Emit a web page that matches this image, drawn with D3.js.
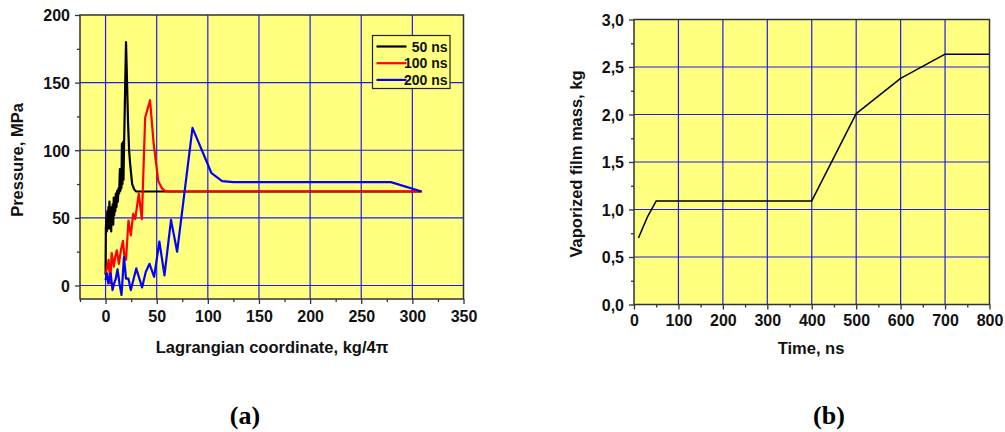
<!DOCTYPE html>
<html><head><meta charset="utf-8">
<script src="https://cdn.jsdelivr.net/npm/d3@7"></script>
<style>
html,body{margin:0;padding:0;background:#fff;}
svg{display:block;font-family:"Liberation Sans",Arial,sans-serif;font-weight:bold;}
</style></head>
<body>
<svg id="c" width="1005" height="432"></svg>
<script>
// ---- Panel (a): pressure vs Lagrangian coordinate ----
const seriesNames = ["50 ns", "100 ns", "200 ns"];
const seriesColors = ["#000000", "#ff0000", "#0000ff"];

const x50 = [0, 0.3, 0.8, 1.2, 1.7, 2.2, 2.8, 3.3, 3.8, 4.3, 5, 5.5, 6, 6.5, 7, 7.5, 8, 8.5, 9, 9.5, 10, 10.7, 11.3, 12, 12.7, 13.3, 14, 14.5, 15, 15.5, 16, 16.5, 17, 17.5, 18, 19, 20, 21, 22, 23, 24, 26, 28, 30, 35, 60, 309];
const p50 = [8, 42, 50, 40, 55, 45, 58, 42, 62, 48, 55, 40, 58, 47, 60, 45, 65, 52, 62, 55, 68, 58, 70, 62, 72, 68, 86, 70, 82, 72, 105, 75, 106, 78, 100, 140, 180, 150, 120, 100, 90, 75, 71, 69.5, 69.5, 69.5, 69.5];

const x100 = [0, 2, 3, 4.5, 6, 8, 9.4, 11, 13, 15, 17, 18.5, 20, 22.4, 24.7, 27, 29, 32.5, 35.5, 38.7, 43.5, 47, 51.6, 55, 58, 61, 309];
const p100 = [9, 14, 19, 1.5, 24, 14, 21, 26, 16, 26, 33, 21, 19, 48, 37, 53, 49, 68, 49, 124, 137, 105, 77, 72, 70, 69.5, 69.5];

const x200 = [0, 1.3, 2.6, 3.9, 5, 6.8, 8.4, 10, 11.7, 13.6, 15.6, 18, 20, 22.4, 24.7, 30, 35.7, 39.3, 43, 47.5, 52.6, 57.6, 64, 70, 85, 103.6, 114, 125, 279, 309];
const p200 = [4, 9, 1.5, 6.4, 9, -3.4, 1.5, 5, 12, 1.5, -7, 21, 5, 5, -3.4, 12.6, -1.5, 10, 16, 6.4, 32.5, 7.5, 48.5, 25, 116.5, 83, 77.2, 76.4, 76.4, 69.5];

const xTicksA = [0, 50, 100, 150, 200, 250, 300, 350];
const yTicksA = [0, 50, 100, 150, 200];

// ---- Panel (b): vaporized film mass vs time ----
const timeNs = [10, 30, 50, 400, 500, 600, 700, 800];
const massKg = [0.70, 0.92, 1.09, 1.09, 2.01, 2.38, 2.635, 2.635];
const xTicksB = [0, 100, 200, 300, 400, 500, 600, 700, 800];
const yTicksB = [0, 0.5, 1.0, 1.5, 2.0, 2.5, 3.0];
const yTickLabelsB = ["0,0", "0,5", "1,0", "1,5", "2,0", "2,5", "3,0"];

const svg = d3.select("#c");
const BG = "#ffff80", GRID = "#1c1cf0", FRAME = "#333333";

function panel(cfg) {
  const x = d3.scaleLinear().domain(cfg.xDomain).range([cfg.left, cfg.right]);
  const y = d3.scaleLinear().domain(cfg.yDomain).range([cfg.bottom, cfg.top]);
  const g = svg.append("g");
  g.append("rect").attr("x", cfg.left).attr("y", cfg.top)
    .attr("width", cfg.right - cfg.left).attr("height", cfg.bottom - cfg.top)
    .attr("fill", BG);
  // grid
  g.selectAll(null).data(cfg.xTicks.filter(v => v > cfg.xDomain[0] && v < cfg.xDomain[1]))
    .join("line").attr("x1", d => x(d)).attr("x2", d => x(d))
    .attr("y1", cfg.top).attr("y2", cfg.bottom).attr("stroke", GRID).attr("stroke-width", 1.2);
  g.selectAll(null).data(cfg.yTicks.filter(v => v > cfg.yDomain[0] && v < cfg.yDomain[1]))
    .join("line").attr("y1", d => y(d)).attr("y2", d => y(d))
    .attr("x1", cfg.left).attr("x2", cfg.right).attr("stroke", GRID).attr("stroke-width", 1.2);
  // axes
  const xAxis = d3.axisBottom(x).tickValues(cfg.xTicks).tickSize(5).tickSizeOuter(0).tickFormat(d3.format("d"));
  const xMinor = d3.axisBottom(x).tickValues(cfg.xMinor).tickSize(3).tickSizeOuter(0).tickFormat("");
  const yAxis = d3.axisLeft(y).tickValues(cfg.yTicks).tickSize(5).tickSizeOuter(0)
    .tickFormat((d, i) => cfg.yLabels ? cfg.yLabels[i] : d3.format("d")(d));
  const yMinor = d3.axisLeft(y).tickValues(cfg.yMinor).tickSize(3).tickSizeOuter(0).tickFormat("");
  [[xAxis, "x"], [xMinor, "x"], [yAxis, "y"], [yMinor, "y"]].forEach(([ax, t]) => {
    const a = g.append("g").attr("transform", t === "x" ? `translate(0,${cfg.bottom})` : `translate(${cfg.left},0)`).call(ax);
    a.select(".domain").remove();
    a.selectAll("line").attr("stroke", FRAME).attr("stroke-width", 1.3);
    a.selectAll("text").attr("font-size", 16).attr("font-weight", "bold").attr("fill", "#111")
      .attr("font-family", "Liberation Sans, Arial, sans-serif");
    if (t === "x") a.selectAll("text").attr("y", 0).attr("dy", cfg.xLabelDy);
    else a.selectAll("text").attr("x", -(cfg.left - cfg.yLabelRight)).attr("dy", "0.36em");
  });
  // series
  const line = d3.line().x(d => x(d[0])).y(d => y(d[1]));
  cfg.series.forEach(s => {
    g.append("path").datum(s.xs.map((v, i) => [v, s.ys[i]]))
      .attr("d", line).attr("fill", "none").attr("stroke", s.color)
      .attr("stroke-width", s.width).attr("stroke-linejoin", "round");
  });
  // frame
  g.append("rect").attr("x", cfg.left).attr("y", cfg.top)
    .attr("width", cfg.right - cfg.left).attr("height", cfg.bottom - cfg.top)
    .attr("fill", "none").attr("stroke", FRAME).attr("stroke-width", 1.5);
  // titles
  g.append("text").attr("x", cfg.xTitleX).attr("y", cfg.xTitleY).attr("text-anchor", "middle")
    .attr("font-size", 16.5).attr("fill", "#111").text(cfg.xTitle);
  g.append("text").attr("transform", `translate(${cfg.yTitleX},${cfg.yTitleY}) rotate(-90)`)
    .attr("text-anchor", "middle").attr("font-size", 16.5).attr("fill", "#111").text(cfg.yTitle);
  return {x, y, g};
}

const A = panel({
  left: 80, right: 463.5, top: 15, bottom: 299,
  xDomain: [-25, 350], yDomain: [-10, 200],
  xTicks: xTicksA, yTicks: yTicksA,
  xMinor: [-25, 25, 75, 125, 175, 225, 275, 325], yMinor: [25, 75, 125, 175],
  xLabelDy: 22.5, yLabelRight: 70,
  xTitle: "Lagrangian coordinate, kg/4\u03c0", xTitleX: 272, xTitleY: 353,
  yTitle: "Pressure, MPa", yTitleX: 23, yTitleY: 160,
  series: [
    {xs: x50, ys: p50, color: seriesColors[0], width: 2.2},
    {xs: x100, ys: p100, color: seriesColors[1], width: 2.2},
    {xs: x200, ys: p200, color: seriesColors[2], width: 2.2}
  ]
});

// legend
const leg = A.g.append("g");
leg.append("rect").attr("x", 372.5).attr("y", 35.5).attr("width", 77.5).attr("height", 53)
  .attr("fill", BG).attr("stroke", "#222").attr("stroke-width", 1.2);
seriesNames.forEach((n, i) => {
  const yy = 46.5 + i * 16.7;
  leg.append("line").attr("x1", 376.5).attr("x2", 406.5).attr("y1", yy).attr("y2", yy)
    .attr("stroke", seriesColors[i]).attr("stroke-width", 2.2);
  leg.append("text").attr("x", 447.5).attr("y", yy).attr("dy", "0.36em").attr("text-anchor", "end")
    .attr("font-size", 14).attr("fill", "#111").text(n);
});

panel({
  left: 634, right: 989.5, top: 19.5, bottom: 304.5,
  xDomain: [0, 800], yDomain: [0, 3],
  xTicks: xTicksB, yTicks: yTicksB, yLabels: yTickLabelsB,
  xMinor: [50, 150, 250, 350, 450, 550, 650, 750], yMinor: [0.25, 0.75, 1.25, 1.75, 2.25, 2.75],
  xLabelDy: 21.5, yLabelRight: 624,
  xTitle: "Time, ns", xTitleX: 811, xTitleY: 354,
  yTitle: "Vaporized film mass, kg", yTitleX: 582, yTitleY: 164,
  series: [{xs: timeNs, ys: massKg, color: "#000000", width: 1.5}]
});

// panel captions
svg.append("text").attr("x", 245).attr("y", 424).attr("text-anchor", "middle")
  .attr("font-family", "Liberation Serif, Times New Roman, serif").attr("font-weight", "bold")
  .attr("font-size", 26).attr("fill", "#000").text("(a)");
svg.append("text").attr("x", 829).attr("y", 424).attr("text-anchor", "middle")
  .attr("font-family", "Liberation Serif, Times New Roman, serif").attr("font-weight", "bold")
  .attr("font-size", 26).attr("fill", "#000").text("(b)");
</script>
</body></html>
